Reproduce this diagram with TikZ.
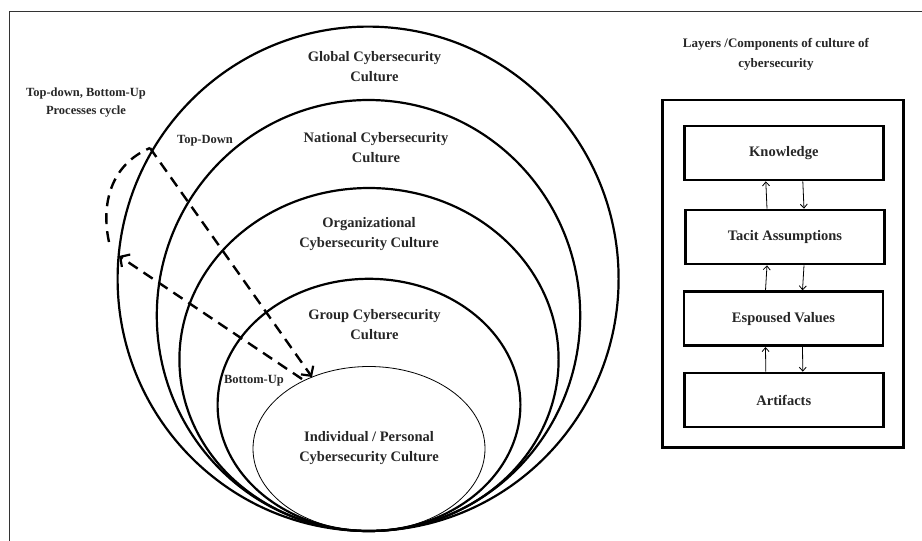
\documentclass[tikz,border=0pt]{standalone}
\usepackage{fontspec}
\setmainfont{Liberation Serif}
\usetikzlibrary{shapes.geometric,arrows.meta}
\begin{document}
\begin{tikzpicture}[x=1pt,y=-1pt,
  ell/.style={draw, ellipse, line width=2.2pt, inner sep=0pt, outer sep=0pt},
  lbl/.style={font=\bfseries\fontsize{14.5}{20}\selectfont, text=black!85, align=center, inner sep=0pt},
  small/.style={font=\bfseries\fontsize{12.5}{18}\selectfont, text=black!85, align=center, inner sep=0pt},
  layerbox/.style={draw, line width=2.6pt, minimum width=199pt, minimum height=54pt, inner sep=0pt,
     font=\bfseries\fontsize{14.5}{18}\selectfont, text=black!85},
  thinarrow/.style={line width=0.8pt, -{Straight Barb[length=4pt,width=7pt]}},
  dashline/.style={line width=2.4pt, dash pattern=on 11pt off 7pt},
  dasharrow/.style={dashline, -{Straight Barb[length=7pt,width=15pt,line width=2.2pt]}}
]
\useasboundingbox (0,0) rectangle (922,541);
% partial frame of the figure
\draw[line width=1.2pt, black!80] (9.5,541) -- (9.5,11.5) -- (922,11.5);

% nested ellipses
\node[ell, minimum width=501pt, minimum height=504.4pt] (global) at (368.1,278.8) {};
\node[ell, minimum width=423.4pt, minimum height=431pt] (national) at (368.5,315.5) {};
\node[ell, minimum width=379.2pt, minimum height=343pt] (org) at (369,359.5) {};
\node[ell, minimum width=302.8pt, minimum height=252.2pt] (group) at (369,404.9) {};
\node[ell, line width=0.8pt, minimum width=232pt, minimum height=164.5pt] (indiv) at (369,448.75) {};

% ellipse labels
\node[lbl] (tglobal) at (374.5,66.5) {Global Cybersecurity\\Culture};
\node[lbl] (tnational) at (376,148) {National Cybersecurity\\Culture};
\node[lbl] (torg) at (369,234) {Organizational\\Cybersecurity Culture};
\node[lbl] (tgroup) at (374.5,324.7) {Group Cybersecurity\\Culture};
\node[lbl] (tindiv) at (369,448.5) {Individual / Personal\\Cybersecurity Culture};

% process labels
\node[small] (tcycle) at (86,103) {Top-down, Bottom-Up\\Processes cycle};
\node[small] (ttd) at (205,141) {Top-Down};
\node[small] (tbu) at (254,381) {Bottom-Up};

% top-down / bottom-up cycle
\coordinate (tdS) at (150,148);
\coordinate (tdE) at (312,377);
\coordinate (buS) at (302,379);
\coordinate (buE) at (119,256);
\coordinate (arcS) at (109,242);
\draw[dasharrow] (tdS) -- (tdE);
\draw[dasharrow] (buS) -- (buE);
\draw[dashline] (arcS) .. controls (101,205) and (110,165) .. (tdS);

% right panel
\node[small, font=\bfseries\fontsize{13}{20}\selectfont] (tlayers) at (776,54) {Layers /Components of culture of\\cybersecurity};
\node[draw, line width=2.6pt, minimum width=240.6pt, minimum height=347.3pt, inner sep=0pt] (frame) at (783,273.7) {};
\node[layerbox] (know) at (783.8,153) {Knowledge};
\node[layerbox] (tacit) at (785,237) {Tacit Assumptions};
\node[layerbox] (esp) at (783.5,318.7) {Espoused Values};
\node[layerbox] (art) at (783.8,400) {Artifacts};

\foreach \lo/\hi in {tacit/know, esp/tacit, art/esp}{
  \draw[thinarrow] ([xshift=-18pt]\lo.north) -- ([xshift=-18pt]\hi.south);
  \draw[thinarrow] ([xshift=19pt]\hi.south) -- ([xshift=19pt]\lo.north);
}
\end{tikzpicture}
\end{document}
